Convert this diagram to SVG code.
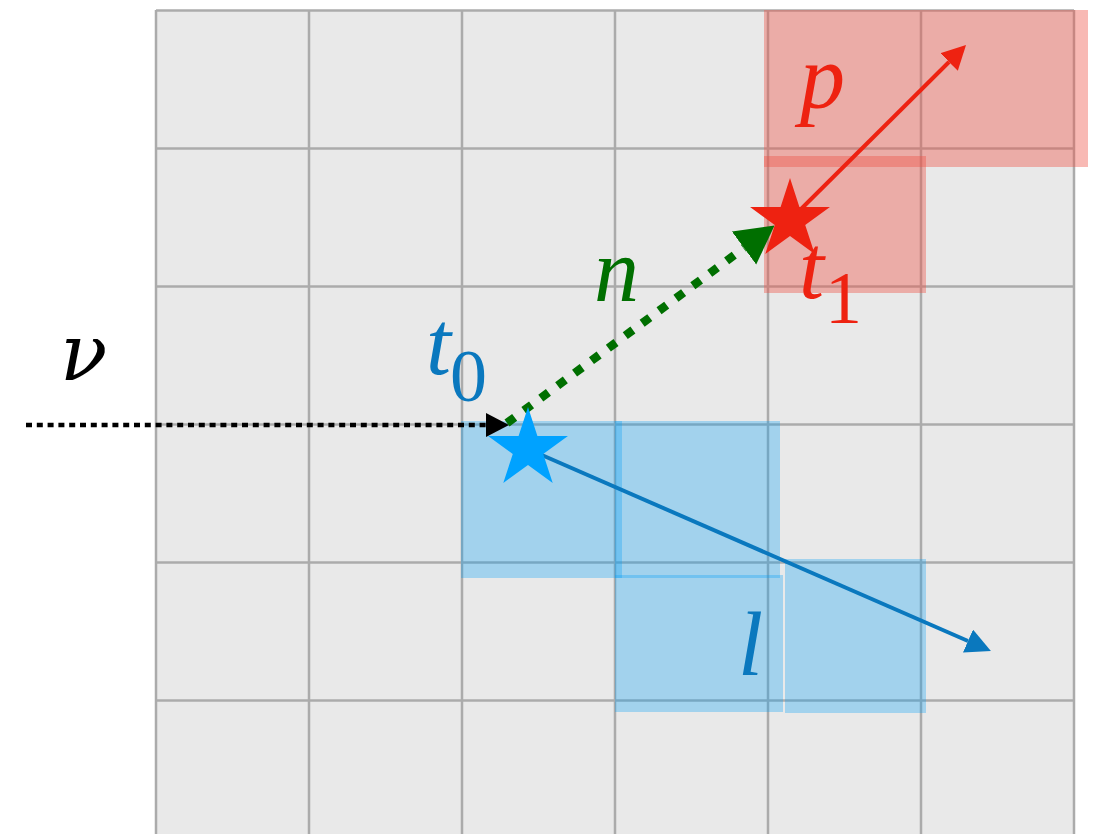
<svg xmlns="http://www.w3.org/2000/svg" xmlns:xlink="http://www.w3.org/1999/xlink" width="1096" height="834" viewBox="0 0 1096 834">
  <style>
    .grid line { stroke: #ababab; stroke-width: 2.5; }
    .red-rect { fill: rgb(238,84,74); fill-opacity: 0.41; }
    .blue-rect { fill: rgb(0,160,250); fill-opacity: 0.3; }
    .lbl { font-family: 'Liberation Serif', serif; font-style: italic; font-size: 90px; }
    .sub { font-family: 'Liberation Serif', serif; font-style: normal; font-size: 74px; }
    .greek { font-family: 'DejaVu Serif', serif; font-style: italic; font-size: 78px; }
  </style>
  <defs>
    <polygon id="star" points="0,-42 9.4,-12.94 39.94,-12.98 15.22,4.94 24.69,33.98 0,16 -24.69,33.98 -15.22,4.94 -39.94,-12.98 -9.4,-12.94"/>
    <marker id="ah-red" markerUnits="userSpaceOnUse" markerWidth="25" markerHeight="26" refX="0" refY="12.5" orient="auto" viewBox="0 0 25 26">
      <path d="M0,0 L24,12.5 L0,25 z" fill="#ee2211"/>
    </marker>
    <marker id="ah-blue" markerUnits="userSpaceOnUse" markerWidth="26" markerHeight="26" refX="0" refY="12.5" orient="auto" viewBox="0 0 26 26">
      <path d="M0,0 L25,12.5 L0,25 z" fill="#0a78be"/>
    </marker>
    <marker id="ah-green" markerUnits="userSpaceOnUse" markerWidth="39" markerHeight="42" refX="0" refY="20.5" orient="auto" viewBox="0 0 39 42">
      <path d="M0,0 L38,20.5 L0,41 z" fill="#006f00"/>
    </marker>
    <marker id="ah-black" markerUnits="userSpaceOnUse" markerWidth="24" markerHeight="24" refX="0" refY="12" orient="auto" viewBox="0 0 24 24">
      <path d="M0,0 L23,12 L0,24 z" fill="#000000"/>
    </marker>
  </defs>

  <rect width="1096" height="834" fill="#ffffff"/>

  <g id="grid" class="grid">
    <rect x="156" y="10.5" width="918" height="823.5" fill="#e9e9e9"/>
    <line x1="156" y1="10" x2="156" y2="834"/>
    <line x1="309" y1="10" x2="309" y2="834"/>
    <line x1="462" y1="10" x2="462" y2="834"/>
    <line x1="615" y1="10" x2="615" y2="834"/>
    <line x1="768" y1="10" x2="768" y2="834"/>
    <line x1="921" y1="10" x2="921" y2="834"/>
    <line x1="1074" y1="10" x2="1074" y2="834"/>
    <line x1="156" y1="10.5" x2="1074" y2="10.5"/>
    <line x1="156" y1="148.5" x2="1074" y2="148.5"/>
    <line x1="156" y1="286.5" x2="1074" y2="286.5"/>
    <line x1="156" y1="424.5" x2="1074" y2="424.5"/>
    <line x1="156" y1="562.5" x2="1074" y2="562.5"/>
    <line x1="156" y1="700.5" x2="1074" y2="700.5"/>
  </g>

  <g id="red-region">
    <rect class="red-rect" x="764" y="10" width="324" height="157"/>
    <rect class="red-rect" x="764" y="156" width="162" height="137"/>
  </g>

  <g id="blue-region">
    <rect class="blue-rect" x="461" y="421" width="161" height="157"/>
    <rect class="blue-rect" x="615" y="421" width="165" height="157"/>
    <rect class="blue-rect" x="615" y="575" width="168" height="137"/>
    <rect class="blue-rect" x="785" y="559" width="141" height="154"/>
  </g>

  <g id="connectors">
    <line id="nu" x1="26" y1="425" x2="486" y2="425" stroke="#000000" stroke-width="4.5" stroke-dasharray="6 4.8" marker-end="url(#ah-black)"/>
    <line id="n" x1="507" y1="423" x2="744" y2="248" stroke="#006f00" stroke-width="8.5" stroke-dasharray="9.5 11.5" marker-end="url(#ah-green)"/>
    <line id="p" x1="790" y1="220" x2="949" y2="62" stroke="#ee2211" stroke-width="4" marker-end="url(#ah-red)"/>
    <line id="l" x1="528" y1="449" x2="968" y2="641" stroke="#0a78be" stroke-width="4" marker-end="url(#ah-blue)"/>
  </g>

  <g id="t0">
    <use xlink:href="#star" href="#star" x="528" y="449" fill="#00a2ff"/>
    <text x="426" y="374" class="lbl" fill="#0a78be">t</text>
    <text x="450" y="401" class="sub" fill="#0a78be">0</text>
  </g>

  <g id="t1">
    <use xlink:href="#star" href="#star" x="790" y="220" fill="#ee2211"/>
    <text x="799" y="298" class="lbl" fill="#ee2211">t</text>
    <text x="825" y="323" class="sub" fill="#ee2211">1</text>
  </g>

  <g id="labels">
    <text x="60" y="380" class="greek" fill="#000000">ν</text>
    <text x="594" y="301" class="lbl" fill="#006f00">n</text>
    <text x="800" y="108" class="lbl" fill="#ee2211">p</text>
    <text x="738" y="675" class="lbl" fill="#0a78be">l</text>
  </g>
</svg>
